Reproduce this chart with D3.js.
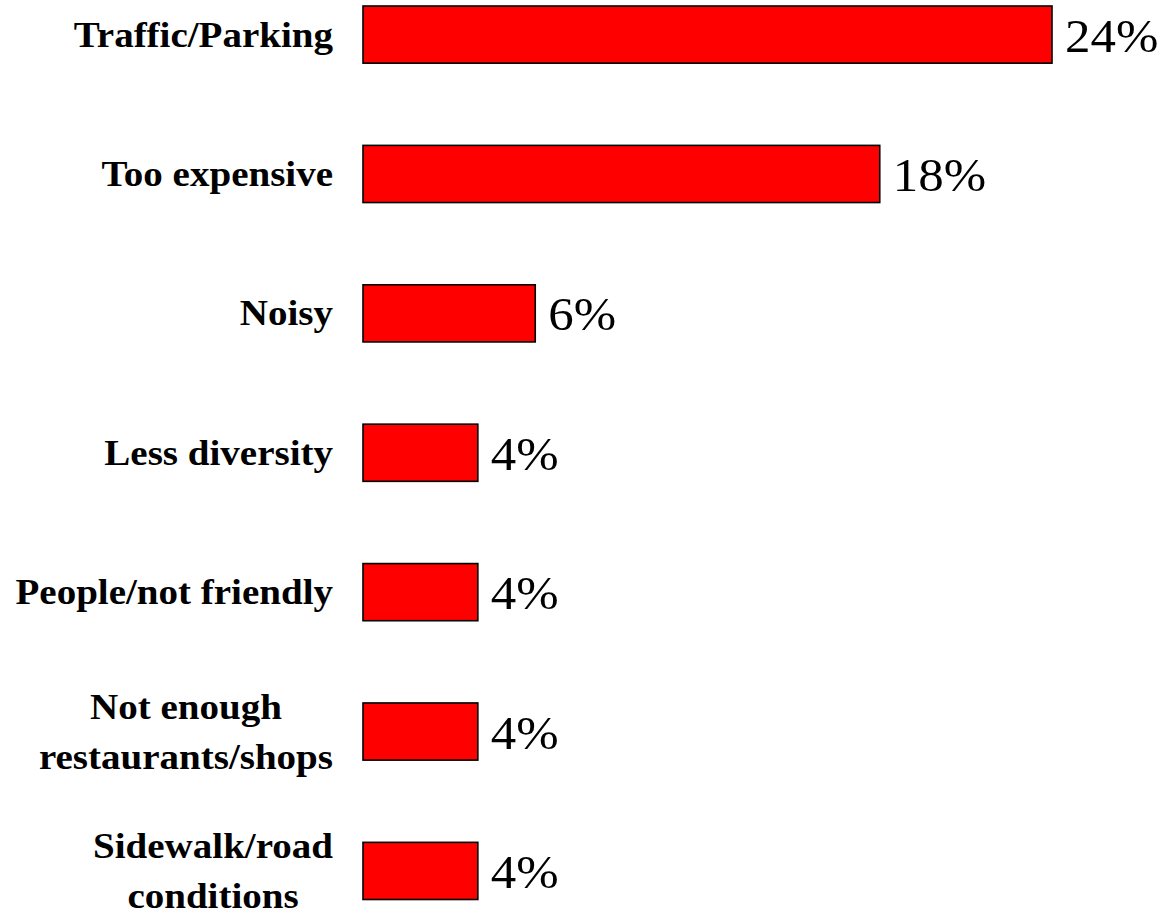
<!DOCTYPE html>
<html>
<head>
<meta charset="utf-8">
<script src="https://cdn.jsdelivr.net/npm/d3@7"></script>
<style>
  html, body { margin: 0; padding: 0; background: #fff; }
  svg { display: block; }
</style>
</head>
<body>
<svg id="chart" width="1164" height="910"></svg>
<script>
const categories = [
  "Traffic/Parking",
  "Too expensive",
  "Noisy",
  "Less diversity",
  "People/not friendly",
  "Not enough\nrestaurants/shops",
  "Sidewalk/road\nconditions"
];
const values = [24, 18, 6, 4, 4, 4, 4];
const valueLabels = ["24%", "18%", "6%", "4%", "4%", "4%", "4%"];

const svg = d3.select("#chart");
const stretch = 1.084;
const serif = "'Liberation Serif', 'Times New Roman', serif";

const x = d3.scaleLinear().domain([0, 24]).range([363, 1052]);
const y = d3.scaleBand().domain(categories).range([6, 899.5]).paddingInner(0.59).paddingOuter(0);

const data = categories.map((c, i) => ({ c, v: values[i], lab: valueLabels[i] }));

svg.selectAll("rect.bar").data(data).enter().append("rect")
  .attr("class", "bar")
  .attr("x", x(0))
  .attr("y", d => y(d.c))
  .attr("width", d => x(d.v) - x(0))
  .attr("height", y.bandwidth())
  .attr("fill", "#ff0000")
  .attr("stroke", "#000")
  .attr("stroke-width", 1.6);

svg.selectAll("g.val").data(data).enter().append("g")
  .attr("class", "val")
  .attr("transform", d => `translate(${x(d.v) + 13},${y(d.c) + y.bandwidth() / 2 + 17}) scale(${stretch},1)`)
  .append("text")
  .attr("font-family", serif)
  .attr("font-size", 47)
  .attr("fill", "#000")
  .text(d => d.lab);

const labelRight = 333;
const lineH = 50;
data.forEach(d => {
  const lines = d.c.split("\n");
  const cy = y(d.c) + y.bandwidth() / 2;
  const g = svg.append("g").attr("transform", `translate(${labelRight},0) scale(${stretch},1)`);
  const t = g.append("text")
    .attr("font-family", serif)
    .attr("font-weight", "bold")
    .attr("font-size", 36)
    .attr("fill", "#000")
    .attr("text-anchor", "middle");
  const baseline0 = cy + 12 - (lines.length - 1) * lineH / 2;
  const spans = lines.map((ln, i) => t.append("tspan")
    .attr("y", baseline0 + i * lineH)
    .text(ln));
  const maxW = d3.max(spans, s => s.node().getComputedTextLength());
  spans.forEach(s => s.attr("x", -maxW / 2));
});
</script>
</body>
</html>
